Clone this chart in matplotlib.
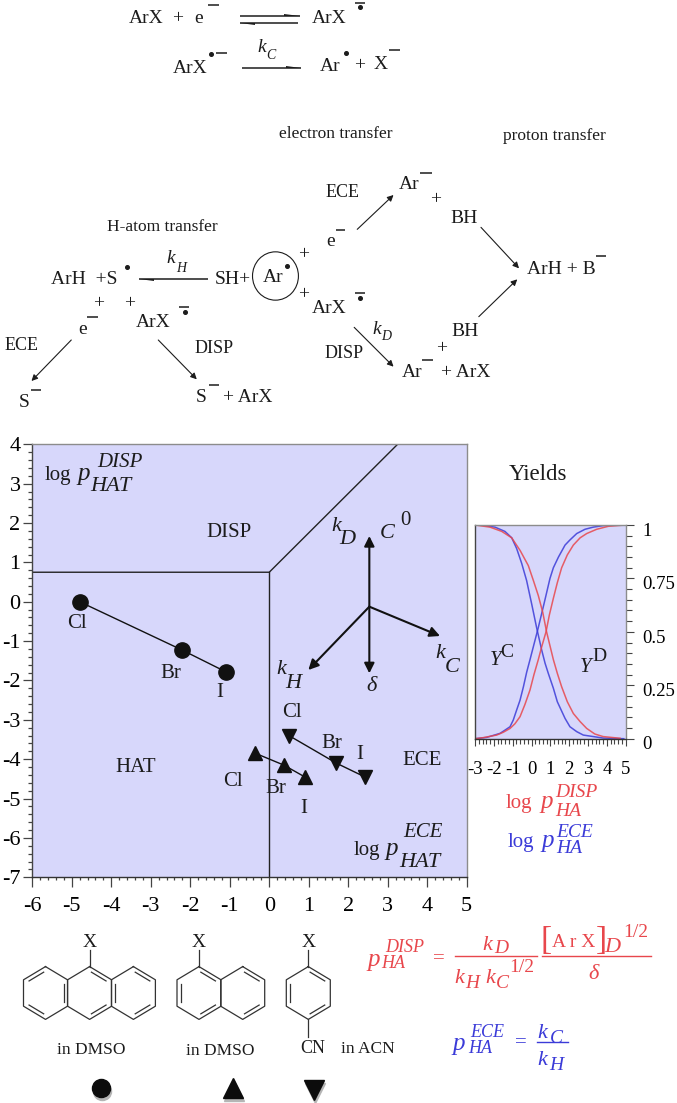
'''
Radical-pathway zone diagram: reaction schemes, zone plot, yield curves and formulas.
'''

import matplotlib
matplotlib.use('Agg')
import matplotlib.pyplot as plt
from matplotlib.patches import Ellipse
from matplotlib.transforms import ScaledTranslation

# zone plot data
zone_x = [-6, 0, 3.25]
zone_y = [0.75, 0.75, 4]
split_x = [0, 0]
split_y = [0.75, -7]

anthracene_x = [-4.8, -2.2, -1.1]
anthracene_y = [0.0, -1.23, -1.78]
naphthalene_x = [-0.35, 0.37, 0.9]
naphthalene_y = [-3.85, -4.15, -4.45]
benzonitrile_x = [0.5, 1.7, 2.42]
benzonitrile_y = [-3.4, -4.1, -4.45]

# yield curves
blue_dec_x = [-3, -2.56, -1.94, -1.41, -1.05, -0.79, -0.52, -0.26, 0.01, 0.27, 0.54, 0.72, 0.89, 1.16, 1.37,
              1.78, 2.04, 2.4, 2.75, 3.8, 4.9]
blue_dec_y = [1, 0.998, 0.99, 0.97, 0.94, 0.89, 0.82, 0.74, 0.63, 0.52, 0.415, 0.353, 0.306, 0.236, 0.173,
              0.095, 0.056, 0.033, 0.017, 0.003, 0]
blue_inc_x = [-3, -2.38, -1.67, -1.41, -1.14, -0.97, -0.79, -0.61, -0.43, -0.26, -0.08, 0.36, 0.66, 0.98, 1.16,
              1.43, 1.78, 2.04, 2.4, 2.84, 3.28, 3.8, 5]
blue_inc_y = [0, 0.006, 0.025, 0.04, 0.056, 0.087, 0.134, 0.18, 0.243, 0.31, 0.37, 0.52, 0.63, 0.75, 0.8,
              0.85, 0.906, 0.93, 0.96, 0.98, 0.99, 0.997, 1]
red_dec_x = [-3, -2.2, -1.58, -1.05, -0.6, -0.17, 0.1, 0.36, 0.6, 0.8, 1.16, 1.37, 1.6, 1.9, 2.22, 2.58, 2.93,
             3.36, 3.8, 4.7]
red_dec_y = [1, 0.99, 0.97, 0.94, 0.88, 0.81, 0.74, 0.67, 0.59, 0.5, 0.37, 0.306, 0.243, 0.173, 0.118, 0.08, 0.048,
             0.022, 0.01, 0.002]
red_inc_x = [-3, -2.56, -1.85, -1.5, -1.14, -0.88, -0.61, -0.35, -0.08, 0.13, 0.36, 0.54, 0.77, 0.95, 1.16, 1.37,
             1.6, 1.9, 2.22, 2.58, 2.93, 3.46, 4.08, 5]
red_inc_y = [0, 0.005, 0.017, 0.03, 0.048, 0.07, 0.103, 0.16, 0.228, 0.3, 0.37, 0.43, 0.5, 0.58, 0.657, 0.73,
             0.8, 0.86, 0.906, 0.94, 0.96, 0.98, 0.994, 1]

main_xticks = list(range(-6, 6))
main_yticks = list(range(-7, 5))
inset_xticks = list(range(-3, 6))
inset_yticks = [0, 0.25, 0.5, 0.75, 1]
inset_ylabels = ['0', '0.25', '0.5', '0.75', '1']

FILL = '#d7d7fb'
RED = '#e8474c'
BLUE = '#3b3bd8'
INK = '#1c1c1c'
W, H = 677, 1103
ZX = 2.287  # the scheme and formula crops were squeezed sideways
ZY = 3.0

plt.rcParams['font.family'] = ['Liberation Serif', 'DejaVu Serif']
plt.rcParams['axes.unicode_minus'] = False
plt.rcParams['text.color'] = INK

fig = plt.figure(figsize=(W / 100, H / 100), dpi=100)


def px_axes(left, top, right, bottom):
    return fig.add_axes([left / W, 1 - bottom / H, (right - left) / W, (bottom - top) / H])


def style_spines(ax):
    ax.set_facecolor(FILL)
    for side, col in [('left', '#444444'), ('bottom', '#333333'), ('top', '#8c8c8c'), ('right', '#8c8c8c')]:
        ax.spines[side].set_color(col)
        ax.spines[side].set_linewidth(1.0)


# main zone plot
ax = px_axes(32.3, 444.3, 466.7, 877.3)
style_spines(ax)
ax.set_xlim(-6, 5)
ax.set_ylim(-7, 4)
ax.plot(zone_x, zone_y, color='#222222', lw=1.0)
ax.plot(split_x, split_y, color='#222222', lw=1.0)
ax.plot(anthracene_x, anthracene_y, '-o', color='#111111', lw=1.0, ms=11)
ax.plot(naphthalene_x, naphthalene_y, '-^', color='#111111', lw=1.0, ms=10)
ax.plot(benzonitrile_x, benzonitrile_y, '-v', color='#111111', lw=1.0, ms=10)
ax.set_xticks(main_xticks)
ax.set_yticks(main_yticks)
ax.set_xticks([v / 5 for v in range(-30, 26)], minor=True)
ax.set_yticks([v / 5 for v in range(-35, 21)], minor=True)
ax.tick_params(axis='x', which='major', length=7, width=0.9, pad=7, labelsize=16, color='#444444')
ax.tick_params(axis='y', which='major', length=6.5, width=0.9, pad=2, labelsize=16, color='#444444')
ax.tick_params(axis='x', which='minor', length=2, width=0.9, color='#444444')
ax.tick_params(axis='y', which='minor', length=3, width=0.9, color='#444444')

# yields inset
ins = px_axes(475, 525, 625.7, 738.7)
style_spines(ins)
ins.set_xlim(-3, 5)
ins.set_ylim(0, 1)
ins.plot(blue_dec_x, blue_dec_y, color=BLUE, lw=1.1, alpha=0.85)
ins.plot(blue_inc_x, blue_inc_y, color=BLUE, lw=1.1, alpha=0.85)
ins.plot(red_dec_x, red_dec_y, color=RED, lw=1.1, alpha=0.85)
ins.plot(red_inc_x, red_inc_y, color=RED, lw=1.1, alpha=0.85)
ins.yaxis.tick_right()
ins.set_xticks(inset_xticks)
ins.set_yticks(inset_yticks)
ins.set_yticklabels(inset_ylabels)
ins.set_xticks([v / 5 for v in range(-15, 26)], minor=True)
ins.set_yticks([v / 20 for v in range(0, 21)], minor=True)
ins.tick_params(axis='x', which='major', length=5, width=0.8, pad=11, labelsize=13.5, color='#444444')
ins.tick_params(axis='y', which='major', length=6, width=0.8, pad=6, labelsize=13.5, color='#444444')
ins.tick_params(axis='x', which='minor', length=3.5, width=0.8, color='#444444')
ins.tick_params(axis='y', which='minor', length=4, width=0.8, color='#444444')
# the right-hand labels sit a little below their ticks
for lab in ins.get_yticklabels():
    lab.set_transform(lab.get_transform() + ScaledTranslation(0, -3 / 72, fig.dpi_scale_trans))

# overlay in pixel coordinates for scheme, labels and formulas
ov = fig.add_axes([0, 0, 1, 1], zorder=5)
ov.set_xlim(0, W)
ov.set_ylim(H, 0)
ov.axis('off')


def t(x, y, s, size=14, style='normal', color=INK, **kw):
    ov.text(x, y, s, fontsize=size, style=style, color=color, ha='left', va='baseline', **kw)


def z1(x, y, s, size=14, style='normal', color=INK):
    t(x / ZX, y / ZY, s, size, style, color)


def z2(x, y, s, size=15, style='normal'):
    t(x / 3, 430 + y / 3, s, size, style)


def z3(x, y, s, size=15, style='normal', color=INK):
    t(460 + x / 3, 450 + y / 3, s, size, style, color)


def z4(x, y, s, size=15, style='normal', color=RED):
    t(x / ZX, 920 + y / ZY, s, size, style, color)


def bar(x0, x1, y, lw=1.1, color=INK):
    ov.plot([x0 / ZX, x1 / ZX], [y / ZY, y / ZY], color=color, lw=lw, solid_capstyle='butt')


def dot(x, y):
    ov.plot([x / ZX], [y / ZY], 'o', color=INK, ms=2.6)


def arrow(x0, y0, x1, y1, lw=0.8):
    ov.annotate('', xy=(x1 / ZX, y1 / ZY), xytext=(x0 / ZX, y0 / ZY),
                arrowprops=dict(arrowstyle='-|>', color=INK, lw=lw, mutation_scale=9, shrinkA=0, shrinkB=0))


def half_head(x, y, dx, dy):
    ov.fill([x / ZX, (x + dx) / ZX, (x + dx) / ZX], [y / ZY, y / ZY, (y + dy) / ZY], color=INK, lw=0)


# equilibrium and cleavage
z1(295, 70, 'ArX')
z1(393, 68, '+')
z1(445, 70, 'e')
bar(475, 500, 15)
z1(713, 68, 'ArX')
bar(812, 835, 8)
dot(823, 22)
bar(548, 685, 48)
bar(548, 682, 68)
half_head(685, 48, -35, -6)
half_head(548, 68, 35, 6)
z1(395, 218, 'ArX')
dot(483, 163)
bar(495, 520, 160)
z1(588, 156, 'k', 14, 'italic')
z1(610, 178, 'C', 10, 'italic')
bar(553, 688, 205)
half_head(688, 205, -35, -6)
z1(732, 212, 'Ar')
dot(792, 158)
z1(810, 210, '+')
z1(855, 208, 'X')
bar(890, 915, 150)

# headings
z1(638, 415, 'electron transfer', 12.5)
z1(1150, 420, 'proton transfer', 12.5)
z1(245, 692, 'H-atom transfer', 12.5)

# right branch
z1(745, 590, 'ECE', 13)
z1(913, 568, 'Ar')
bar(960, 987, 520)
z1(984, 612, '+')
z1(1030, 668, 'BH')
z1(745, 738, 'e')
bar(768, 790, 690)
arrow(817, 688, 900, 585)
arrow(1100, 682, 1187, 805)
z1(1205, 822, 'ArH + B')
bar(1362, 1385, 767)
arrow(1095, 950, 1183, 838)
z1(1033, 1007, 'BH')
z1(998, 1058, '+')
z1(918, 1130, 'Ar')
bar(965, 990, 1080)
z1(1008, 1132, '+ ArX')
z1(742, 1075, 'DISP', 13)
z1(852, 1003, 'k', 14, 'italic')
z1(872, 1020, 'D', 10, 'italic')
arrow(810, 982, 900, 1100)
z1(712, 938, 'ArX')
bar(812, 835, 880)
dot(823, 895)
z1(682, 778, '+')
z1(682, 896, '+')
ov.add_patch(Ellipse((630 / ZX, 828 / ZY), 105 / ZX, 145 / ZY, fill=False, ec=INK, lw=0.8))
z1(600, 845, 'Ar')
dot(656, 797)

# left branch
z1(490, 852, 'SH+')
bar(318, 475, 838)
half_head(318, 838, 35, 6)
z1(380, 790, 'k', 14, 'italic')
z1(402, 815, 'H', 10, 'italic')
z1(117, 852, 'ArH  +S')
dot(290, 802)
z1(213, 923, '+')
z1(283, 923, '+')
z1(310, 980, 'ArX')
bar(410, 433, 920)
dot(422, 937)
z1(178, 1003, 'e')
bar(200, 225, 952)
z1(10, 1050, 'ECE', 13)
z1(444, 1060, 'DISP', 13)
arrow(163, 1020, 72, 1143)
arrow(362, 1020, 450, 1138)
z1(42, 1222, 'S')
bar(70, 93, 1170)
z1(448, 1207, 'S')
bar(477, 500, 1155)
z1(510, 1205, '+ ArX')

# zone plot labels
z2(135, 150, 'log')
z2(232, 150, 'p', 18, 'italic')
z2(293, 112, 'DISP', 15, 'italic')
z2(270, 182, 'HAT', 16, 'italic')
z2(620, 320, 'DISP')
z2(345, 1027, 'HAT')
z2(1208, 1005, 'ECE')
z2(1210, 1222, 'ECE', 15, 'italic')
z2(1060, 1275, 'log')
z2(1157, 1275, 'p', 18, 'italic')
z2(1197, 1310, 'HAT', 16, 'italic')
z2(202, 595, 'Cl')
z2(480, 745, 'Br')
z2(650, 800, 'I')
z2(845, 860, 'Cl')
z2(963, 955, 'Br')
z2(1068, 988, 'I')
z2(668, 1068, 'Cl')
z2(797, 1088, 'Br')
z2(900, 1148, 'I')
z2(993, 302, 'k', 16, 'italic')
z2(1017, 343, 'D', 16, 'italic')
z2(1138, 325, 'C', 16, 'italic')
z2(1202, 285, '0')
z2(1307, 685, 'k', 16, 'italic')
z2(1333, 725, 'C', 16, 'italic')
z2(830, 733, 'k', 16, 'italic')
z2(855, 775, 'H', 16, 'italic')
z2(1098, 782, 'δ', 16, 'italic')

# direction arrows, origin near (2.55, -0.15) on the zone plot
for tx, ty in [(1108, 318), (1108, 730), (925, 720), (1320, 618)]:
    ov.annotate('', xy=(tx / 3, 430 + ty / 3), xytext=(1108 / 3, 430 + 530 / 3),
                arrowprops=dict(arrowstyle='-|>', color='#111111', lw=1.5, mutation_scale=15,
                                shrinkA=0, shrinkB=0))

# yields labels
z3(147, 90, 'Yields', 16.5)
z3(88, 645, 'Y', 15, 'italic')
z3(122, 620, 'C', 14)
z3(358, 665, 'Y', 15, 'italic')
z3(398, 632, 'D', 14)
z3(137, 1075, 'log', 15, color=RED)
z3(240, 1075, 'p', 18, 'italic', RED)
z3(285, 1040, 'DISP', 14, 'italic', RED)
z3(285, 1097, 'HA', 14, 'italic', RED)
z3(143, 1190, 'log', 15, color=BLUE)
z3(245, 1190, 'p', 18, 'italic', BLUE)
z3(290, 1160, 'ECE', 14, 'italic', BLUE)
z3(290, 1210, 'HA', 14, 'italic', BLUE)

# formula for p_HA^DISP
z4(840, 138, 'p', 18, 'italic')
z4(880, 95, 'DISP', 13, 'italic')
z4(872, 143, 'HA', 13, 'italic')
z4(990, 130, '=', 15)
z4(1103, 90, 'k', 16, 'italic')
z4(1130, 100, 'D', 14, 'italic')
z4(1040, 190, 'k', 16, 'italic')
z4(1065, 205, 'H', 14, 'italic')
z4(1110, 190, 'k', 16, 'italic')
z4(1135, 205, 'C', 14, 'italic')
z4(1165, 155, '1/2', 14)
z4(1262, 80, 'A r X', 14)
z4(1236, 88, '[', 24)
z4(1362, 88, ']', 24)
z4(1383, 95, 'D', 16, 'italic')
z4(1425, 50, '1/2', 14)
z4(1345, 178, 'δ', 16, 'italic')
for x0, x1 in [(1040, 1228), (1240, 1488)]:
    ov.plot([x0 / ZX, x1 / ZX], [920 + 108 / ZY] * 2, color=RED, lw=1.0)

# formula for p_HA^ECE
z4(1035, 390, 'p', 18, 'italic', BLUE)
z4(1075, 350, 'ECE', 13, 'italic', BLUE)
z4(1070, 398, 'HA', 13, 'italic', BLUE)
z4(1178, 380, '=', 15, color=BLUE)
z4(1230, 355, 'k', 16, 'italic', BLUE)
z4(1258, 368, 'C', 14, 'italic', BLUE)
z4(1230, 435, 'k', 16, 'italic', BLUE)
z4(1255, 450, 'H', 14, 'italic', BLUE)
ov.plot([1228 / ZX, 1300 / ZX], [920 + 365 / ZY] * 2, color=BLUE, lw=1.0)

# structures
RX, RY = 22, 26.4
RING_Y = 993


def ring(cx, doubles):
    # vertices clockwise from the top
    vx = [cx, cx + RX, cx + RX, cx, cx - RX, cx - RX]
    vy = [RING_Y - RY, RING_Y - RY / 2, RING_Y + RY / 2, RING_Y + RY, RING_Y + RY / 2, RING_Y - RY / 2]
    ov.plot(vx + vx[:1], vy + vy[:1], color='#333333', lw=0.9)
    for i in doubles:
        j = (i + 1) % 6
        x0 = vx[i] + (cx - vx[i]) * 0.17
        y0 = vy[i] + (RING_Y - vy[i]) * 0.17
        x1 = vx[j] + (cx - vx[j]) * 0.17
        y1 = vy[j] + (RING_Y - vy[j]) * 0.17
        ov.plot([x0 + (x1 - x0) * 0.1, x1 - (x1 - x0) * 0.1],
                [y0 + (y1 - y0) * 0.1, y1 - (y1 - y0) * 0.1], color='#333333', lw=0.9)


ring(45.5, [1, 3, 5])
ring(89.6, [0, 2])
ring(133.4, [0, 2, 4])
ring(199, [0, 2, 4])
ring(242.7, [0, 2])
ring(308.3, [0, 2, 4])
for sx in [89.6, 199, 308.3]:
    ov.plot([sx, sx], [950, RING_Y - RY], color='#333333', lw=0.9)
    t(sx - 7, 947, 'X', 14)
ov.plot([308.3, 308.3], [RING_Y + RY, 1036.7], color='#333333', lw=0.9)
z4(687, 400, 'CN', 13, color=INK)
z4(130, 402, 'in DMSO', 12.5, color=INK)
z4(425, 405, 'in DMSO', 12.5, color=INK)
z4(780, 398, 'in ACN', 12.5, color=INK)

# legend marks with their grey shadow
for mx, my, m, ms in [(232, 505, 'o', 13), (533, 505, '^', 15), (717, 510, 'v', 15)]:
    ov.plot([mx / ZX + 1], [920 + my / ZY + 3], m, color='#b5b5b5', ms=ms)
    ov.plot([mx / ZX], [920 + my / ZY], m, color='#0c0c0c', ms=ms)

fig.savefig('out.png', dpi=100)
